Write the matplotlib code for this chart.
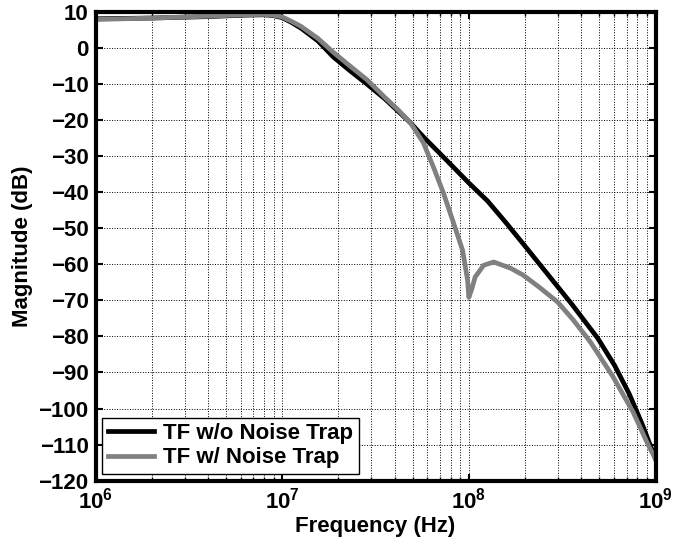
import matplotlib
matplotlib.use("Agg")
import matplotlib.pyplot as plt
from matplotlib.ticker import LogLocator, NullFormatter

# black curve: transfer function without noise trap
freq_plain = [1.0e6, 2.0e6, 3.98e6, 6.31e6, 7.94e6, 8.91e6, 1.0e7, 1.12e7, 1.26e7,
              1.55e7, 1.88e7, 2.32e7, 2.86e7, 3.55e7, 4.86e7, 5.75e7, 7.05e7,
              8.51e7, 1.0e8, 1.26e8, 1.58e8, 2.0e8, 2.57e8, 3.55e8, 4.90e8,
              6.03e8, 7.24e8, 8.51e8, 1.0e9]
mag_plain = [8.0, 8.2, 8.6, 9.0, 9.1, 8.9, 8.3, 7.0, 5.4,
             1.9, -2.6, -6.5, -10.2, -14.2, -20.8, -24.9, -29.5,
             -33.8, -37.5, -42.5, -48.5, -55.0, -62.0, -71.0, -80.5,
             -88.0, -96.0, -104.5, -114.0]

# gray curve: transfer function with noise trap
freq_trap = [1.0e6, 2.0e6, 3.98e6, 6.31e6, 7.94e6, 8.91e6, 1.0e7, 1.12e7, 1.26e7,
             1.55e7, 1.88e7, 2.32e7, 2.86e7, 3.55e7, 4.17e7, 4.86e7, 5.71e7,
             6.46e7, 7.31e7, 8.28e7, 9.25e7, 9.84e7, 1.0e8, 1.035e8, 1.08e8,
             1.20e8, 1.36e8, 1.67e8, 1.95e8, 2.40e8, 2.99e8, 3.63e8, 4.47e8,
             5.89e8, 7.59e8, 9.12e8, 1.0e9]
mag_trap = [7.8, 8.2, 8.7, 9.1, 9.2, 9.0, 8.5, 7.3, 5.9,
            2.6, -1.3, -5.2, -9.0, -13.8, -17.2, -20.8, -26.4,
            -33.1, -40.3, -48.6, -56.1, -64.4, -69.2, -67.0, -63.6,
            -60.3, -59.4, -61.1, -63.0, -66.5, -70.5, -75.5, -81.5,
            -91.0, -101.0, -110.0, -114.0]

x_ticks = [1e6, 1e7, 1e8, 1e9]
x_tick_labels = [r"$\mathbf{10^{6}}$", r"$\mathbf{10^{7}}$", r"$\mathbf{10^{8}}$", r"$\mathbf{10^{9}}$"]
y_ticks = list(range(-120, 11, 10))

plt.rcParams["font.family"] = ["Liberation Sans", "DejaVu Sans"]
plt.rcParams["font.weight"] = "bold"
plt.rcParams["mathtext.fontset"] = "custom"
plt.rcParams["mathtext.rm"] = "Liberation Sans:bold"
plt.rcParams["mathtext.bf"] = "Liberation Sans:bold"

fig = plt.figure(figsize=(6.73, 5.5), dpi=100)
ax = fig.add_axes([0.142, 0.126, 0.832, 0.853])

ax.plot(freq_plain, mag_plain, color="black", lw=3.4, label="TF w/o Noise Trap")
ax.plot(freq_trap, mag_trap, color="#808080", lw=3.4, label="TF w/ Noise Trap")

ax.set_xscale("log")
ax.set_xlim(1e6, 1e9)
ax.set_ylim(-120, 10)
ax.set_xticks(x_ticks, labels=x_tick_labels)
ax.xaxis.set_minor_locator(LogLocator(base=10, subs=range(2, 10)))
ax.xaxis.set_minor_formatter(NullFormatter())
ax.set_yticks(y_ticks, labels=[str(v).replace("-", "\u2212") for v in y_ticks])

ax.grid(True, which="major", color="black", linestyle=":", lw=0.7)
ax.grid(True, which="minor", axis="x", color="black", linestyle=":", lw=0.7)

ax.tick_params(which="both", direction="in", top=True, right=True, labelsize=16)
ax.tick_params(which="major", length=5, width=1.5, pad=5)
ax.tick_params(which="minor", length=3, width=1)
for s in ax.spines.values():
    s.set_linewidth(3)

ax.set_xlabel("Frequency (Hz)", fontsize=16, fontweight="bold", labelpad=2)
ax.set_ylabel("Magnitude (dB)", fontsize=16, fontweight="bold", labelpad=4)

leg = ax.legend(loc="lower left", fontsize=16, fancybox=False, framealpha=1,
                edgecolor="black", borderaxespad=0.3, handlelength=2.1,
                handletextpad=0.4, borderpad=0.25, labelspacing=0.15)
leg.get_frame().set_linewidth(1)

fig.savefig("out.png", dpi=100)
